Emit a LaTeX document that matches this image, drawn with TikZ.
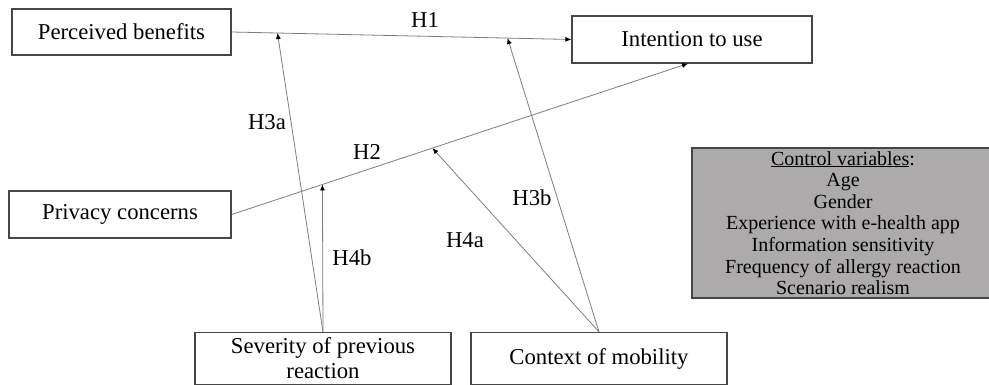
\documentclass[tikz,border=0pt]{standalone}
\usepackage{fontspec}
\setmainfont{Liberation Serif}
\usetikzlibrary{arrows.meta,calc}
\definecolor{boxline}{RGB}{70,70,70}
\definecolor{conn}{RGB}{125,125,125}
\definecolor{ctrlfill}{RGB}{172,170,170}
\tikzset{
  varbox/.style={draw=boxline,line width=1.2pt,fill=white,rectangle,inner sep=0pt,align=center,font=\fontsize{22.7}{26}\selectfont},
  conline/.style={draw=conn,line width=0.8pt,-{Latex[length=6pt,width=5pt,color=black]}},
  hlabel/.style={font=\fontsize{22.7}{26}\selectfont,inner sep=0pt}
}
\begin{document}
\begin{tikzpicture}[x=1pt,y=-1pt]
\useasboundingbox (0,0) rectangle (989,385);
\node[varbox,minimum width=219pt,minimum height=46pt] (PB) at (121.5,32) {Perceived benefits};
\node[varbox,minimum width=240pt,minimum height=47pt] (IU) at (692,39.5) {Intention to use};
\node[varbox,minimum width=222pt,minimum height=47pt] (PC) at (120,214.5) {Privacy concerns};
\node[varbox,minimum width=256pt,minimum height=52pt] (SV) at (323,358.5) {Severity of previous\\[-1pt]reaction};
\node[varbox,minimum width=256pt,minimum height=52pt] (CM) at (599,358.5) {Context of mobility};
\node[draw=boxline,line width=1.2pt,fill=ctrlfill,rectangle,minimum width=302pt,minimum height=150pt,inner sep=0pt,align=center,font=\fontsize{20}{21.6}\selectfont] (CV) at (843,223) {\underline{Control variables}:\\Age\\Gender\\Experience with e-health app\\Information sensitivity\\Frequency of allergy reaction\\Scenario realism};
% connectors
\draw[conline] (PB.east) -- (IU.west);
\draw[conline] (PC.east) -- ([xshift=-4pt]IU.south);
\coordinate (h3a) at ($(PB.east)!0.135!(IU.west)$);
\coordinate (h3b) at ($(PB.east)!0.812!(IU.west)$);
\coordinate (h4b) at ($(PC.east)!0.199!([xshift=-4pt]IU.south)$);
\coordinate (h4a) at ($(PC.east)!0.44!([xshift=-4pt]IU.south)$);
\draw[conline] (SV.north) -- (h3a);
\draw[conline] (SV.north) -- (h4b);
\draw[conline] (CM.north) -- (h3b);
\draw[conline] (CM.north) -- (h4a);
% labels
\node[hlabel] (L1) at (425,20) {H1};
\node[hlabel] (L2) at (367,152) {H2};
\node[hlabel] (L3a) at (267,122) {H3a};
\node[hlabel] (L3b) at (532,198) {H3b};
\node[hlabel] (L4a) at (465,240) {H4a};
\node[hlabel] (L4b) at (352,258) {H4b};
\end{tikzpicture}
\end{document}
